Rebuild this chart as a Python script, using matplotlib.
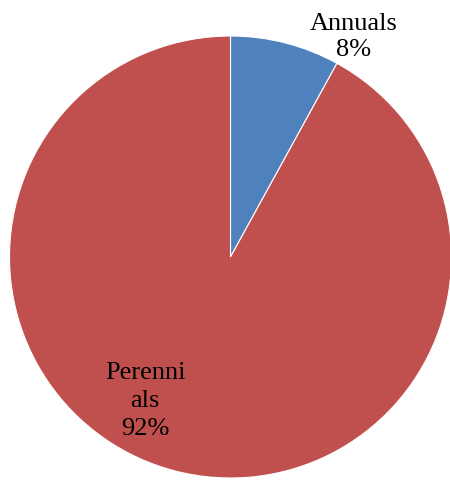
import matplotlib
matplotlib.use("Agg")
import matplotlib.pyplot as plt

categories = ["Annuals", "Perennials"]
shares = [8, 92]
label_lines = ["Annuals", "Perenni\nals"]
colors = ["#4F81BD", "#C0504D"]

W, H = 450, 481
fig = plt.figure(figsize=(W / 100, H / 100), dpi=100)
cx, cy, r = 230.5, 258.0, 221.0
ax = fig.add_axes([(cx - r) / W, (H - cy - r) / H, 2 * r / W, 2 * r / H])
ax.pie(shares, colors=colors, startangle=90, counterclock=False,
       radius=1.0, wedgeprops=dict(edgecolor="white", linewidth=0.8))
ax.set_xlim(-1, 1)
ax.set_ylim(-1, 1)
ax.set_aspect("equal")
ax.axis("off")

font = dict(family="Liberation Serif", fontsize=19, color="black",
            ha="center", va="center")
positions = [(0.556, 1.0), (-0.387, -0.647)]
spacings = [1.28, 1.34]
for text, val, (x, y), ls in zip(label_lines, shares, positions, spacings):
    ax.text(x, y, f"{text}\n{val}%", clip_on=False, linespacing=ls, **font)

fig.savefig("out.png", dpi=100)
